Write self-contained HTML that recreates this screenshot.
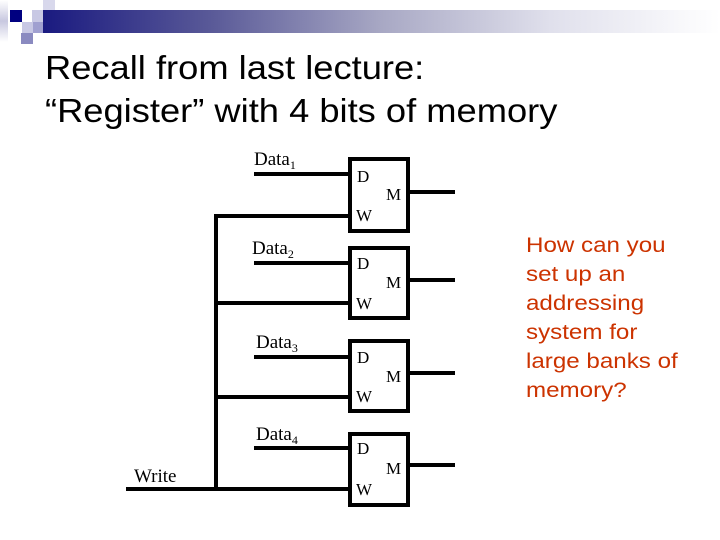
<!DOCTYPE html>
<html><head><style>
body{margin:0;width:720px;height:540px;background:#fff;position:relative;overflow:hidden;font-family:"Liberation Sans",sans-serif}
.a{position:absolute}
</style></head><body>
<div class="a" style="left:0;top:0;width:8px;height:42px;background:linear-gradient(#fff,#c8c8e0,#fff)"></div>
<div class="a" style="left:10px;top:10px;width:12px;height:12px;background:#000080"></div>
<div class="a" style="left:32px;top:10px;width:11px;height:12px;background:#c8c8e4"></div>
<div class="a" style="left:43px;top:0;width:12px;height:10px;background:#d8d8ec"></div>
<div class="a" style="left:22px;top:22px;width:11px;height:11px;background:#c8c8e4"></div>
<div class="a" style="left:33px;top:22px;width:11px;height:11px;background:#a0a0d0"></div>
<div class="a" style="left:21px;top:33px;width:12px;height:11px;background:#8a8ac0"></div>
<div class="a" style="left:43px;top:10px;width:677px;height:23px;background:linear-gradient(90deg,#1a1a80 0%,#5a5a98 25%,#a8a8c4 50%,#e0e0ec 75%,#fff 100%)"></div>
<div class="a" style="left:45px;top:46px;font-size:33px;line-height:43px;color:#000;transform-origin:0 0;transform:scaleX(1.1);white-space:nowrap">Recall from last lecture:<br>“Register” with 4 bits of memory</div>
<svg class="a" style="left:0;top:0" width="720" height="540">
<g fill="none" stroke="#000" stroke-width="4">
<rect x="350" y="159" width="58" height="72"/>
<rect x="350" y="248" width="58" height="70"/>
<rect x="350" y="341" width="58" height="70"/>
<rect x="350" y="434" width="58" height="71"/>
<path d="M254 174H348M254 263H348M254 357H348M254 448H348"/>
<path d="M216 216H348M216 303H348M216 397H348M126 489H348M216 214V491"/>
<path d="M410 192H455M410 280H455M410 373H455M410 465H455"/>
</g>
<g font-family="Liberation Serif,serif" font-size="19" fill="#000">
<text x="254" y="165">Data<tspan font-size="12" dy="4">1</tspan></text>
<text x="252" y="254">Data<tspan font-size="12" dy="4">2</tspan></text>
<text x="256" y="348">Data<tspan font-size="12" dy="4">3</tspan></text>
<text x="256" y="440">Data<tspan font-size="12" dy="4">4</tspan></text>
<text x="134" y="482">Write</text>
<g font-size="17">
<text x="357" y="182">D</text><text x="386" y="200">M</text><text x="356" y="221">W</text>
<text x="357" y="269">D</text><text x="386" y="288">M</text><text x="356" y="309">W</text>
<text x="357" y="363">D</text><text x="386" y="382">M</text><text x="356" y="402">W</text>
<text x="357" y="454">D</text><text x="386" y="474">M</text><text x="356" y="495">W</text>
</g></g>
</svg>
<div class="a" style="left:526px;top:231px;font-size:21px;line-height:29px;color:#cc3300;transform-origin:0 0;transform:scaleX(1.15);white-space:nowrap">How can you<br>set up an<br>addressing<br>system for<br>large banks of<br>memory?</div>
</body></html>
